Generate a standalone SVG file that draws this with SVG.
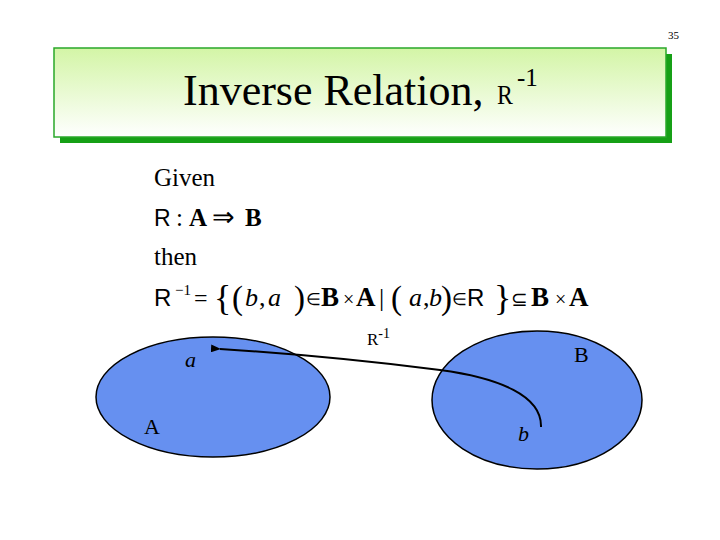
<svg xmlns="http://www.w3.org/2000/svg" width="720" height="540" viewBox="0 0 720 540">
<defs>
<linearGradient id="tg" x1="0" y1="0" x2="0" y2="1">
<stop offset="0" stop-color="#d3f5a6"/>
<stop offset="1" stop-color="#ffffff"/>
</linearGradient>
<marker id="ah" markerWidth="10" markerHeight="8" refX="1" refY="4" orient="auto" markerUnits="userSpaceOnUse">
<path d="M10,0 L0,4 L10,8 Z" fill="#000"/>
</marker>
<style>
.serif{font-family:"Liberation Serif","Times New Roman",serif;fill:#000}
.sans{font-family:"Liberation Sans",Arial,sans-serif;fill:#000}
.it{font-style:italic}
.bd{font-weight:bold}
.set{fill:#6690f0;stroke:#000;stroke-width:1.5}
</style>
</defs>
<rect width="720" height="540" fill="#fff"/>
<text class="serif" x="668" y="39" font-size="11">35</text>
<g id="title">
<rect x="60" y="54" width="612" height="89" fill="#16a016"/>
<rect x="54" y="48" width="612" height="89" fill="url(#tg)" stroke="#2aa82a" stroke-width="1.5"/>
<text class="serif" x="183" y="105" font-size="44">Inverse Relation,</text>
<text class="serif" x="497" y="104" font-size="28" transform="translate(497 0) scale(0.85 1) translate(-497 0)">R</text>
<text class="serif" x="517" y="86" font-size="25">-1</text>
</g>
<g id="definition">
<text class="serif" x="154" y="186" font-size="25">Given</text>
<text class="sans" x="154" y="226" font-size="23">R</text>
<text class="serif" x="176" y="226" font-size="25">:</text>
<text class="serif bd" x="189" y="226" font-size="25">A</text>
<text class="serif" x="212" y="226" font-size="27">⇒</text>
<text class="serif bd" x="245" y="226" font-size="25">B</text>
<text class="serif" x="154" y="265" font-size="25">then</text>
<text class="sans" x="154" y="306" font-size="24">R</text>
<text class="serif" x="175" y="295" font-size="15">−1</text>
<text class="serif" x="194" y="306" font-size="24">=</text>
<text class="serif" x="214" y="310" font-size="36">{</text>
<text class="serif" x="232" y="309" font-size="33">(</text>
<text class="serif it" x="245" y="306" font-size="26">b</text>
<text class="serif" x="259" y="306" font-size="26">,</text>
<text class="serif it" x="268" y="306" font-size="26">a</text>
<text class="serif" x="294" y="309" font-size="33">)</text>
<text class="serif" x="306" y="305" font-size="17">∈</text>
<text class="serif bd" x="321" y="306" font-size="27">B</text>
<text class="serif" x="343" y="306" font-size="20">×</text>
<text class="serif bd" x="356" y="306" font-size="27">A</text>
<text class="serif" x="379" y="306" font-size="26">|</text>
<text class="serif" x="391" y="309" font-size="33">(</text>
<text class="serif it" x="409" y="306" font-size="26">a</text>
<text class="serif" x="423" y="306" font-size="26">,</text>
<text class="serif it" x="429" y="306" font-size="26">b</text>
<text class="serif" x="441" y="309" font-size="33">)</text>
<text class="serif" x="452" y="305" font-size="17">∈</text>
<text class="sans" x="467" y="306" font-size="24">R</text>
<text class="serif" x="494" y="310" font-size="36">}</text>
<text class="serif" x="511" y="306" font-size="20">⊆</text>
<text class="serif bd" x="531" y="306" font-size="27">B</text>
<text class="serif" x="555" y="306" font-size="20">×</text>
<text class="serif bd" x="569" y="306" font-size="27">A</text>
</g>
<g id="setA">
<ellipse class="set" cx="213" cy="397" rx="117" ry="60"/>
<text class="serif it" x="185" y="367" font-size="22">a</text>
<text class="serif" x="144" y="434" font-size="22">A</text>
</g>
<g id="setB">
<ellipse class="set" cx="537" cy="400" rx="105" ry="69"/>
<text class="serif" x="574" y="362" font-size="22">B</text>
<text class="serif it" x="518" y="441" font-size="22">b</text>
</g>
<g id="connectors">
<path d="M541,427 C542,396 500,378 440,370 Q330,356 220,349" fill="none" stroke="#000" stroke-width="2" marker-end="url(#ah)"/>
<text class="serif" x="367" y="345" font-size="17">R<tspan font-size="14" dy="-7">-1</tspan></text>
</g>
</svg>
